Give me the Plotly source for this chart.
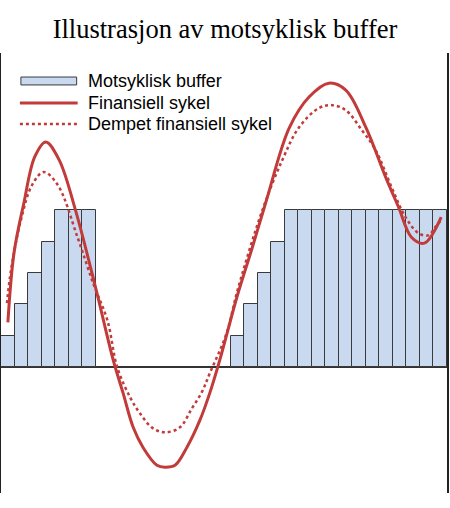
import plotly.graph_objects as go

# buffer level per period (0 = no buffer)
buffer_level = [1, 2, 3, 4, 5, 5, 5,
                0, 0, 0, 0, 0, 0, 0, 0, 0, 0,
                1, 2, 3, 4, 5, 5, 5, 5, 5, 5, 5, 5, 5, 5, 5, 5]
periods = [i + 0.5 for i in range(len(buffer_level))]

# financial cycle
cycle_x = [0.51, 0.96, 1.69, 2.5, 3.31, 4.3, 5.51, 6.99, 8.31, 9.04, 9.78, 10.51,
           11.54, 12.13, 12.87, 13.75, 14.71, 15.44, 16.18, 17.5, 18.6, 19.63,
           21.32, 22.79, 24.26, 25.51, 26.99, 28.46, 29.41, 30.37, 31.32, 32.57]
cycle_y = [1.43, 3.63, 5.22, 6.7, 7.17, 6.6, 5.0, 2.55, 0.22, -0.83, -1.91, -2.55,
           -3.12, -3.18, -3.12, -2.55, -1.69, -0.83, 0.22, 2.3, 3.82, 5.3,
           7.61, 8.6, 9.04, 8.82, 7.64, 6.05, 5.1, 4.14, 3.95, 4.78]

# damped financial cycle
damped_x = [0.44, 0.74, 1.47, 2.3, 3.16, 4.2, 5.66, 6.84, 7.87, 8.6, 9.56, 10.29,
            11.18, 12.13, 13.24, 14.12, 14.85, 15.44, 16.69, 17.5, 19.34, 20.81,
            22.06, 23.53, 24.49, 25.51, 26.69, 27.72, 28.9, 29.93, 30.88, 31.62,
            32.13, 32.57]
damped_y = [2.04, 3.09, 4.68, 5.8, 6.21, 5.8, 4.14, 2.65, 1.5, 0.0, -0.96, -1.47,
            -1.92, -2.07, -1.91, -1.31, -0.8, -0.2, 1.08, 2.45, 5.0, 6.59,
            7.64, 8.25, 8.34, 8.18, 7.55, 6.91, 5.73, 4.78, 4.27, 4.2,
            4.46, 4.68]

legend_names = ["Motsyklisk buffer", "Finansiell sykel", "Dempet finansiell sykel"]

red = "#c23b3b"
bar_fill = "#c9d9f0"
bar_edge = "#3a3a3a"

fig = go.Figure()
fig.add_trace(go.Bar(x=periods, y=[v if v else None for v in buffer_level],
                     width=1, name=legend_names[0],
                     marker=dict(color=bar_fill, line=dict(color=bar_edge, width=1))))
fig.add_trace(go.Scatter(x=cycle_x, y=cycle_y, mode="lines", name=legend_names[1],
                         line=dict(color=red, width=3, shape="spline")))
fig.add_trace(go.Scatter(x=damped_x, y=damped_y, mode="lines", name=legend_names[2],
                         line=dict(color=red, width=2.5, dash="dot", shape="spline")))

# hand-made legend with the long swatches of the original
legend_rows = [0.9364, 0.8864, 0.8386]
fig.add_shape(type="rect", xref="paper", yref="paper", x0=0.0446, x1=0.1696,
              y0=legend_rows[0] - 0.009, y1=legend_rows[0] + 0.009,
              fillcolor=bar_fill, line=dict(color=bar_edge, width=1))
fig.add_shape(type="line", xref="paper", yref="paper", x0=0.0424, x1=0.1719,
              y0=legend_rows[1], y1=legend_rows[1], line=dict(color=red, width=3))
fig.add_shape(type="line", xref="paper", yref="paper", x0=0.0424, x1=0.1719,
              y0=legend_rows[2], y1=legend_rows[2], line=dict(color=red, width=2.5, dash="dot"))
for name, row in zip(legend_names, legend_rows):
    fig.add_annotation(text=name, xref="paper", yref="paper", x=0.19, y=row,
                       xanchor="left", yanchor="middle", showarrow=False,
                       font=dict(family="Liberation Sans", size=18, color="black"))

fig.update_layout(
    width=450, height=508,
    margin=dict(l=1, r=1, t=53, b=15),
    paper_bgcolor="white", plot_bgcolor="white",
    bargap=0,
    title=dict(text="Illustrasjon av motsyklisk buffer", x=0.5, xanchor="center",
               y=1 - 29 / 508, yanchor="middle", yref="container",
               font=dict(family="Liberation Serif", size=26.5, color="black")),
    showlegend=False,
)
fig.update_xaxes(range=[0, 33], showticklabels=False, ticks="", showgrid=False,
                 zeroline=False, showline=False)
fig.update_yaxes(range=[-4, 10], showticklabels=False, ticks="", showgrid=False,
                 showline=True, mirror=True, linecolor="#222", linewidth=1.5,
                 zeroline=True, zerolinecolor="#333", zerolinewidth=1.5)

# drop the default page margin so the figure sits at the window corner
fig.write_html("out.html", config={"displayModeBar": False},
               post_script="document.body.style.margin = '0';")
